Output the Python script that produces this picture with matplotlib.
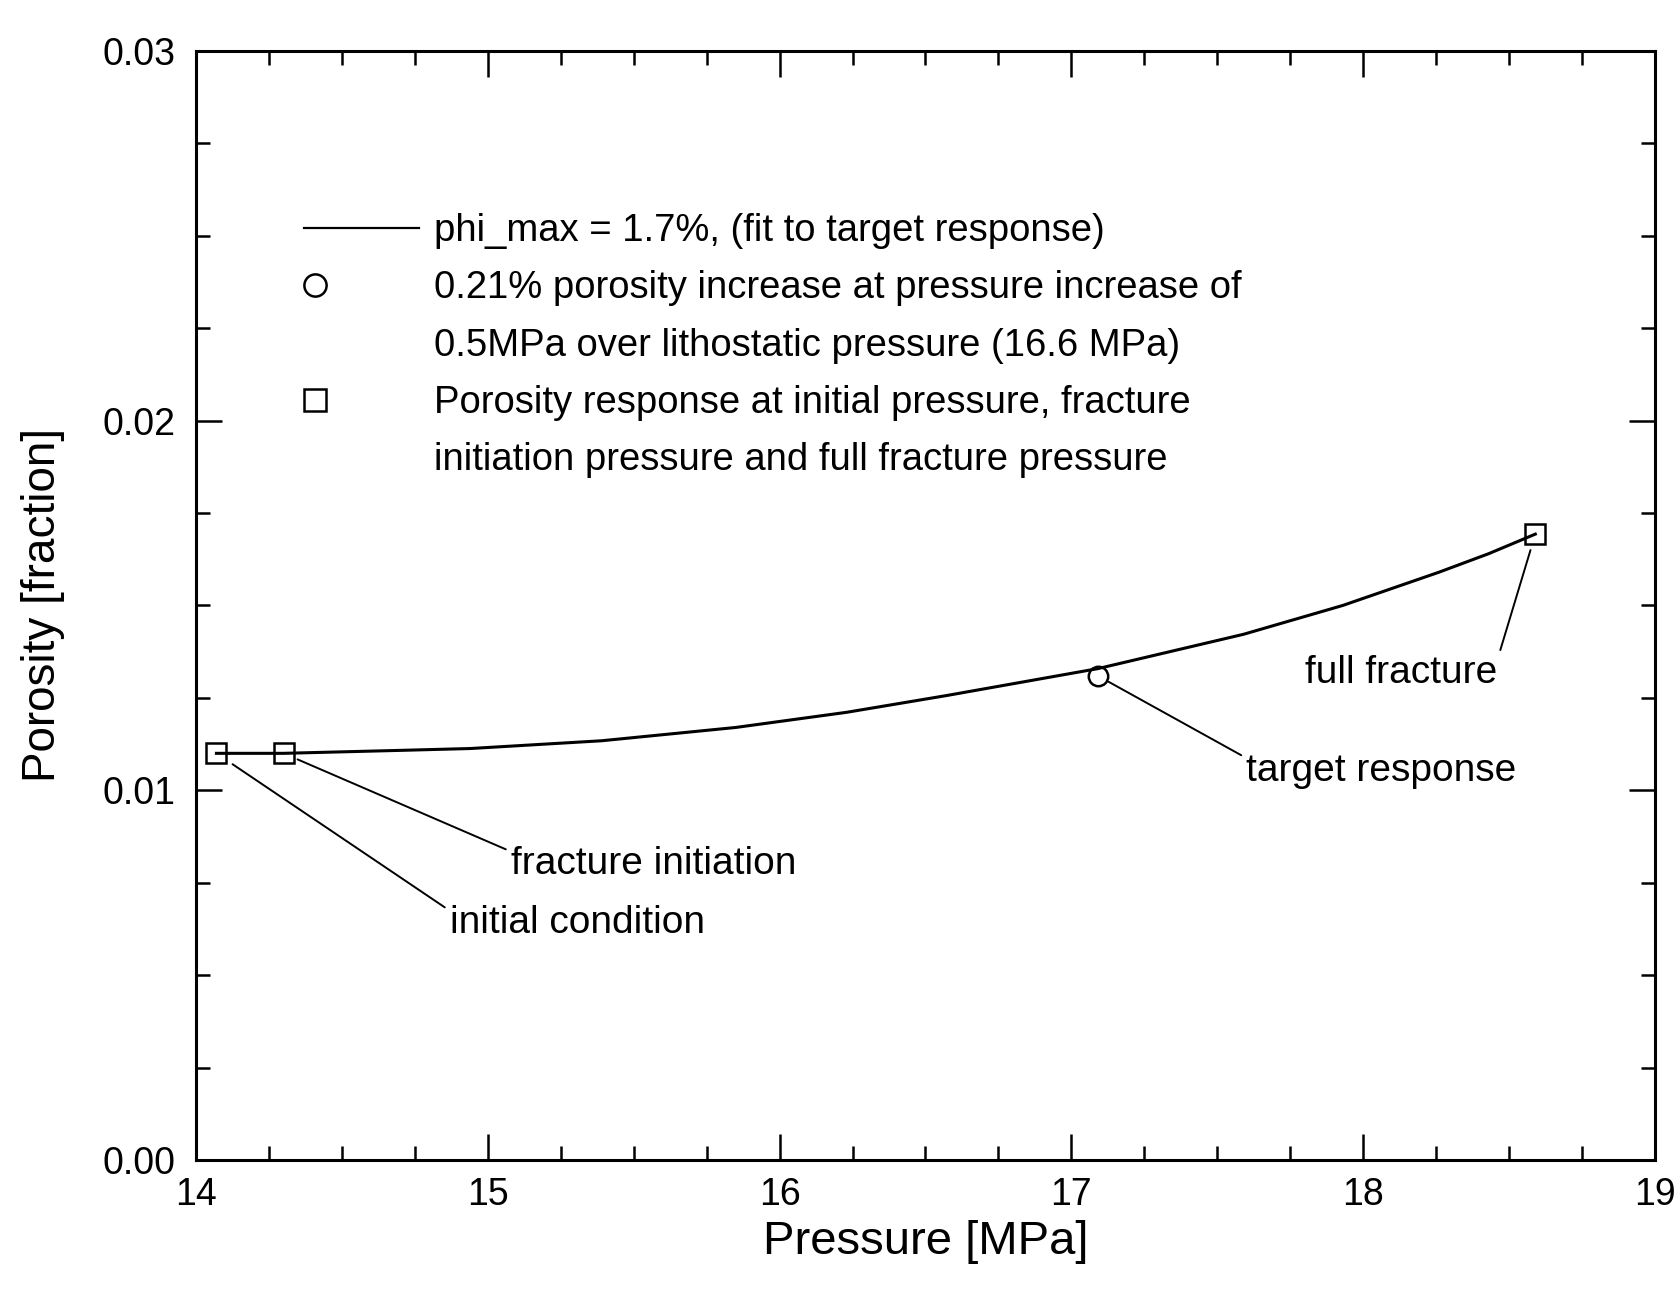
import matplotlib
matplotlib.use('Agg')
import matplotlib.pyplot as plt
import matplotlib.ticker as ticker
from matplotlib.lines import Line2D
from matplotlib.legend_handler import HandlerLine2D

# curve: phi_max = 1.7 %, fitted to the target response
pressure_curve = [14.07, 14.30, 14.70, 14.94, 15.39, 15.85, 16.23, 16.57,
                  17.09, 17.59, 17.93, 18.26, 18.43, 18.59]
porosity_curve = [0.01100, 0.01100, 0.01108, 0.01113, 0.01134, 0.01170, 0.01211, 0.01256,
                  0.01329, 0.01422, 0.01500, 0.01590, 0.01640, 0.01693]

# squares: initial condition, fracture initiation, full fracture
square_pressure = [14.07, 14.30, 18.59]
square_porosity = [0.0110, 0.0110, 0.01693]

# circle: target response
circle_pressure = [17.09]
circle_porosity = [0.0131]

x_ticks = [14, 15, 16, 17, 18, 19]
y_ticks = [0.00, 0.01, 0.02, 0.03]

legend_labels = ['phi_max = 1.7%, (fit to target response)',
                 '0.21% porosity increase at pressure increase of',
                 '0.5MPa over lithostatic pressure (16.6 MPa)',
                 'Porosity response at initial pressure, fracture',
                 'initiation pressure and full fracture pressure']

annot_labels = ['initial condition', 'fracture initiation', 'target response', 'full fracture']
annot_points = [(square_pressure[0], square_porosity[0]),
                (square_pressure[1], square_porosity[1]),
                (circle_pressure[0], circle_porosity[0]),
                (square_pressure[2], square_porosity[2])]

plt.rcParams['font.family'] = ['Liberation Sans', 'DejaVu Sans']


class LeftMarkerHandler(HandlerLine2D):
    """ 图例中只画一个标记, 放在左侧 """
    def get_xdata(self, legend, xdescent, ydescent, width, height, fontsize):
        x = [-xdescent + 0.1 * width]
        return x, x


fig = plt.figure(figsize=(16.81, 12.90), dpi=100)
ax = fig.add_axes([0.1166, 0.1008, 0.9845 - 0.1166, 0.9605 - 0.1008])

ax.plot(pressure_curve, porosity_curve, color='black', linewidth=2.2)
ax.plot(square_pressure, square_porosity, linestyle='none', marker='s', markersize=14,
        markerfacecolor='none', markeredgecolor='black', markeredgewidth=1.8)
ax.plot(circle_pressure, circle_porosity, linestyle='none', marker='o', markersize=14,
        markerfacecolor='none', markeredgecolor='black', markeredgewidth=1.8)

# 注释文字及引线
text_pos = [(14.87, 0.0064), (15.08, 0.0080), (17.60, 0.01053), (17.80, 0.01316)]
rel_pos = [(0, 0.85), (0, 0.85), (0, 0.85), (1, 0.85)]
shrink = [14, 11, 9, 12]
for label, point, pos, rp, sb in zip(annot_labels, annot_points, text_pos, rel_pos, shrink):
    ax.annotate(label, xy=point, xytext=pos, fontsize=28, ha='left', va='center',
                arrowprops=dict(arrowstyle='-', color='black', linewidth=1.4,
                                relpos=rp, shrinkA=2, shrinkB=sb))

# 图例
line_handle = Line2D([], [], color='black', linewidth=1.6)
circle_handle = Line2D([], [], linestyle='none', marker='o', markersize=16,
                       markerfacecolor='none', markeredgecolor='black', markeredgewidth=1.8)
square_handle = Line2D([], [], linestyle='none', marker='s', markersize=16,
                       markerfacecolor='none', markeredgecolor='black', markeredgewidth=1.8)
blank1 = Line2D([], [], linestyle='none')
blank2 = Line2D([], [], linestyle='none')
handles = [line_handle, circle_handle, blank1, square_handle, blank2]
ax.legend(handles, legend_labels, loc='upper left', bbox_to_anchor=(0.074, 0.854),
          frameon=False, fontsize=27.5, handlelength=3.0, handletextpad=0.4,
          borderpad=0, borderaxespad=0, labelspacing=0.56,
          handler_map={circle_handle: LeftMarkerHandler(numpoints=2),
                       square_handle: LeftMarkerHandler(numpoints=2)})

ax.set_xlim(14, 19)
ax.set_ylim(0, 0.03)
ax.set_xticks(x_ticks)
ax.set_yticks(y_ticks)
ax.xaxis.set_major_formatter(ticker.FormatStrFormatter('%d'))
ax.yaxis.set_major_formatter(ticker.FormatStrFormatter('%.2f'))
ax.xaxis.set_minor_locator(ticker.MultipleLocator(0.25))
ax.yaxis.set_minor_locator(ticker.MultipleLocator(0.0025))
ax.tick_params(which='both', direction='in', top=True, right=True, width=1.8)
ax.tick_params(which='major', length=19, labelsize=27)
ax.tick_params(which='minor', length=10)
ax.tick_params(axis='x', which='major', pad=12)
ax.tick_params(axis='y', which='major', pad=15)
for spine in ax.spines.values():
    spine.set_linewidth(2.2)

ax.set_xlabel('Pressure [MPa]', fontsize=34)
ax.set_ylabel('Porosity [fraction]', fontsize=33)
ax.xaxis.label.set_va('center')
ax.yaxis.label.set_va('center')
ax.xaxis.set_label_coords(0.5, -0.074)
ax.yaxis.set_label_coords(-0.105, 0.5)

plt.savefig('out.png', dpi=100)
